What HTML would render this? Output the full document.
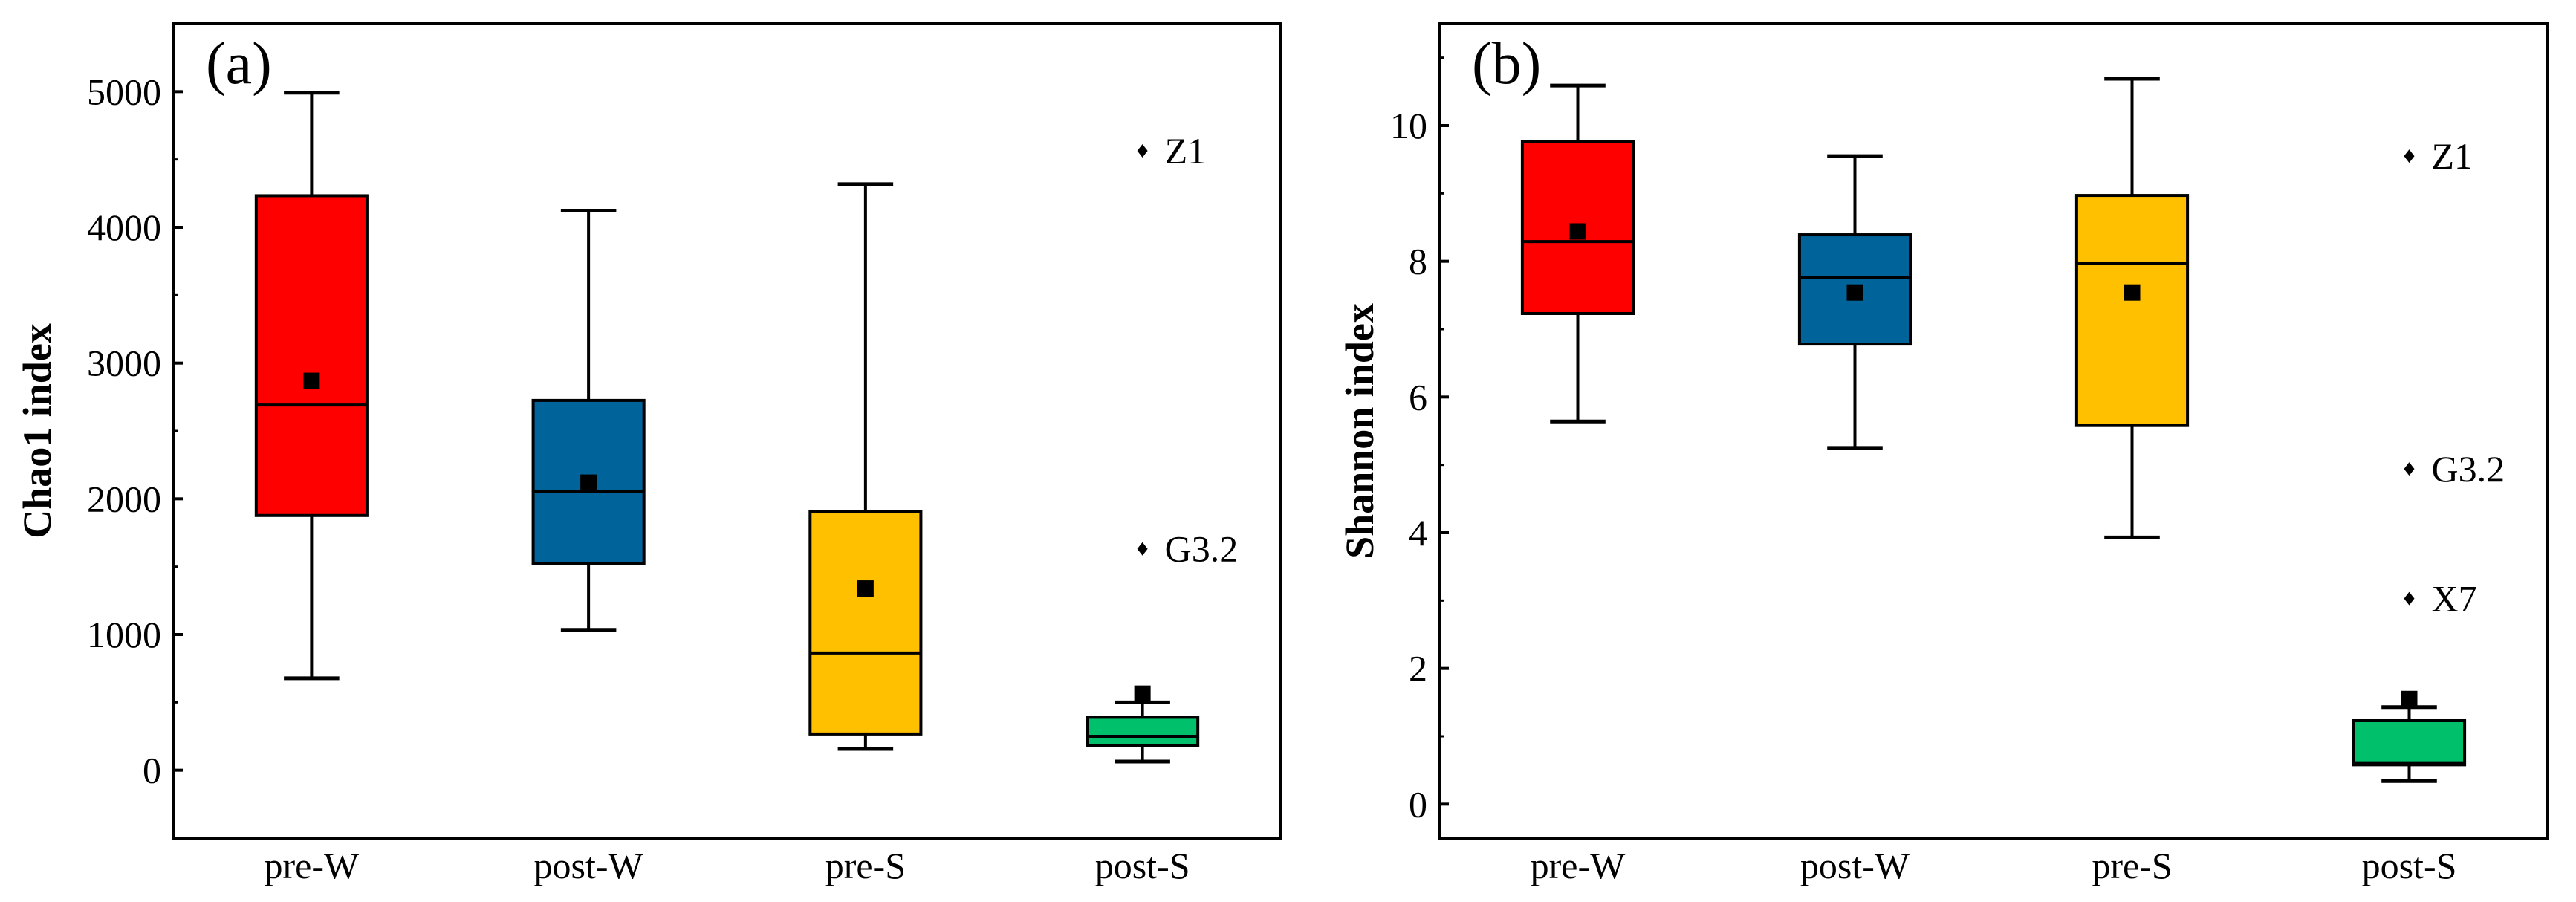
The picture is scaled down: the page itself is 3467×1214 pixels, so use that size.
<!DOCTYPE html>
<html><head><meta charset="utf-8"><style>
html,body{margin:0;padding:0;background:#fff;}
svg{display:block;font-family:"Liberation Serif",serif;}
</style></head><body>
<svg id="fig" width="3467" height="1214" viewBox="0 0 3467 1214"></svg>
<script>
const categories = ["pre-W","post-W","pre-S","post-S"];
const colors = ["#ff0000","#00639a","#ffc000","#00c06c"];
// Chao1
const chaoMin = [678,1034,157,64];
const chaoQ1 = [1877,1521,267,182];
const chaoMed = [2691,2051,864,250];
const chaoQ3 = [4233,2725,1907,390];
const chaoMax = [4992,4123,4318,500];
const chaoMean = [2869,2119,1339,564];
const chaoOutVals = [4564,1631];
const chaoOutLabels = ["Z1","G3.2"];
const chaoTicks = [0,1000,2000,3000,4000,5000];
// Shannon
const shMin = [5.64,5.25,3.93,0.34];
const shQ1 = [7.23,6.78,5.58,0.58];
const shMed = [8.29,7.76,7.97,0.61];
const shQ3 = [9.77,8.39,8.97,1.23];
const shMax = [10.59,9.55,10.69,1.43];
const shMean = [8.44,7.54,7.54,1.55];
const shOutVals = [9.55,4.94,3.03];
const shOutLabels = ["Z1","G3.2","X7"];
const shTicks = [0,2,4,6,8,10];

const NS="http://www.w3.org/2000/svg";
const svg=document.getElementById('fig');
function mk(tag,attrs,parent){const e=document.createElementNS(NS,tag);for(const k in attrs)e.setAttribute(k,attrs[k]);(parent||svg).appendChild(e);return e;}

function panel(cfg){
  const g=mk('g',{});
  
  
  const L=cfg.left,R=cfg.right,T=32,B=1128;
  const y=v=>B-(v-cfg.ymin)/(cfg.ymax-cfg.ymin)*(B-T);
  const x=i=>L+(i+0.5)/4*(R-L);
  const bw=(R-L)/4*0.4, cw=(R-L)/4*0.2;
  // ticks
  cfg.ticks.forEach((t,k)=>{
    const ty=y(t);
    const tk=mk('line',{x1:L,x2:L+13,y1:ty,y2:ty,stroke:'#000','stroke-width':4},g);
    
    
    const lb=mk('text',{x:L-16,y:ty+17,'text-anchor':'end','font-size':50},g);
    lb.textContent=String(t);
    
    
    const mv=t+cfg.step/2;
    if(mv<cfg.ymax){
      const my=y(mv);
      const mt=mk('line',{x1:L,x2:L+7,y1:my,y2:my,stroke:'#000','stroke-width':3},g);
      
      
    }
    if(k===0){const mv2=t-cfg.step/2; if(mv2>cfg.ymin){const my=y(mv2);const mt=mk('line',{x1:L,x2:L+7,y1:my,y2:my,stroke:'#000','stroke-width':3},g);}}
  });
  categories.forEach((c,i)=>{
    const cx=x(i);
    const wl=mk('line',{x1:cx,x2:cx,y1:y(cfg.max[i]),y2:y(cfg.min[i]),stroke:'#000','stroke-width':4},g);
    
    
    [cfg.max[i],cfg.min[i]].forEach(v=>{
      const cap=mk('line',{x1:cx-cw/2,x2:cx+cw/2,y1:y(v),y2:y(v),stroke:'#000','stroke-width':5},g);
      
      
    });
    const bx=mk('rect',{x:cx-bw/2,y:y(cfg.q3[i]),width:bw,height:y(cfg.q1[i])-y(cfg.q3[i]),fill:colors[i],stroke:'#000','stroke-width':4},g);
    
    
    const md=mk('line',{x1:cx-bw/2,x2:cx+bw/2,y1:y(cfg.med[i]),y2:y(cfg.med[i]),stroke:'#000','stroke-width':4},g);
    
    
    const mn=mk('rect',{x:cx-11,y:y(cfg.mean[i])-11,width:22,height:22,fill:'#000'},g);
    
    
    const cl=mk('text',{x:cx,y:1182,'text-anchor':'middle','font-size':50},g);
    cl.textContent=c;
    
    
  });
  cfg.outV.forEach((v,k)=>{
    const cx=x(3), oy=y(v);
    const d=mk('polygon',{points:`${cx},${oy-9} ${cx+7},${oy} ${cx},${oy+9} ${cx-7},${oy}`,fill:'#000'},g);
    
    
    const t=mk('text',{x:cx+30,y:oy+17,'font-size':50},g);
    t.textContent=cfg.outL[k];
    
    
  });
  const fr=mk('rect',{x:L,y:T,width:R-L,height:B-T,fill:'none',stroke:'#000','stroke-width':4},g);
  
  
  const pl=mk('text',{x:L+44,y:112,'font-size':80},g);
  pl.textContent=cfg.tag;
  
  
  const yt=mk('text',{x:cfg.titleX,y:580,'text-anchor':'middle','font-size':54,'font-weight':'bold',transform:`rotate(-90 ${cfg.titleX} 580)`},g);
  yt.textContent=cfg.title;
  
  
}
panel({name:'chao1-panel',left:233,right:1724,ymin:-500,ymax:5500,step:1000,ticks:chaoTicks,min:chaoMin,q1:chaoQ1,med:chaoMed,q3:chaoQ3,max:chaoMax,mean:chaoMean,outV:chaoOutVals,outL:chaoOutLabels,tag:'(a)',title:'Chao1 index',titleX:68});
panel({name:'shannon-panel',left:1937,right:3429,ymin:-0.5,ymax:11.5,step:2,ticks:shTicks,min:shMin,q1:shQ1,med:shMed,q3:shQ3,max:shMax,mean:shMean,outV:shOutVals,outL:shOutLabels,tag:'(b)',title:'Shannon index',titleX:1848});
</script>
</body></html>
